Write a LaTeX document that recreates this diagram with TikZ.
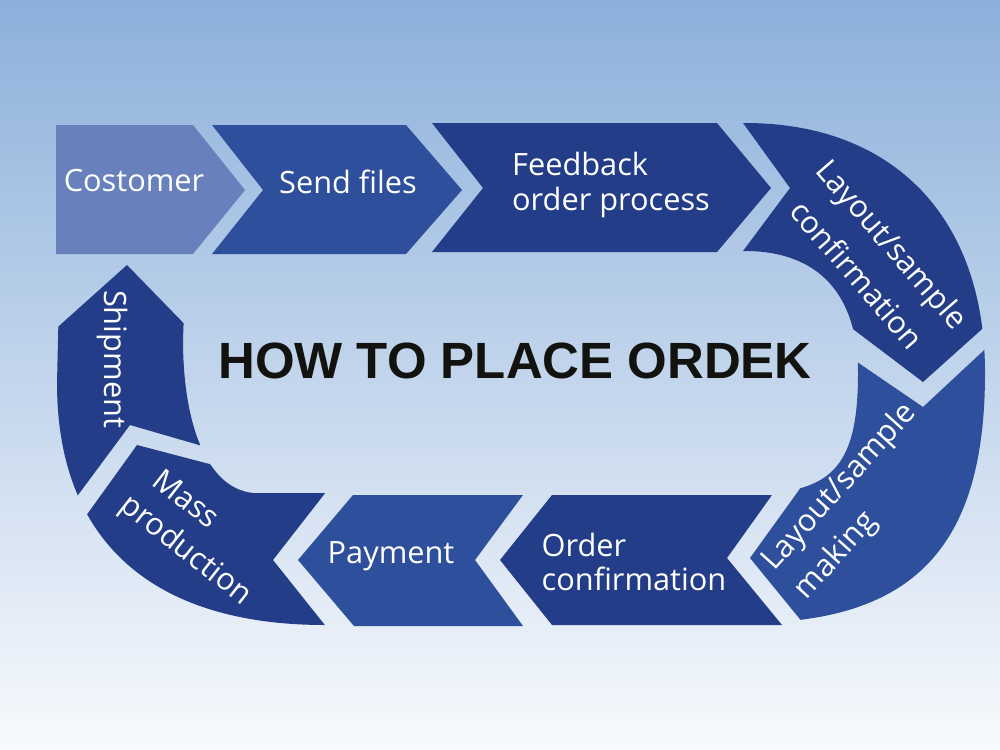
\documentclass[tikz,border=0pt]{standalone}
\usepackage{fontspec}
\setmainfont{Open Sans}                     % step labels
\newfontfamily\headfont{Liberation Sans}    % big title
\usepackage{tikz}
\definecolor{bgtop}{RGB}{140,176,219}       % sky at the top
\definecolor{bgmid}{RGB}{188,208,233}
\definecolor{bgbot}{RGB}{248,250,253}       % almost white at the bottom
\definecolor{steplight}{RGB}{104,128,187}
\definecolor{stepmid}{RGB}{46,79,155}
\definecolor{stepdark}{RGB}{35,61,136}
\definecolor{headink}{RGB}{18,18,14}
\tikzset{steplabel/.style={text=white,inner sep=0pt,align=center,
           font=\fontsize{17.5}{19.5}\selectfont},
         headline/.style={text=headink,inner sep=0pt,
           font=\headfont\bfseries\fontsize{29}{31}\selectfont}}

\begin{document}
\begin{tikzpicture}[x=0.02cm,y=-0.02cm]
\def\ringright{(700,123)--(745,123) .. controls (894,123) and (985,218) .. (985,373) .. controls (985,548) and (913,623) .. (745,623) -- (700,623) -- (700,494) -- (745,494) .. controls (830,494) and (858,470) .. (858,373) .. controls (858,294) and (818,251) .. (745,251) -- (700,251) -- cycle}
\def\ringleft{(345,493) -- (253,493) .. controls (205,488) and (183,420) .. (183,340) -- (186,255) -- (60,255) -- (58,340) -- (57,383) .. controls (57,540) and (151,625) .. (325,625) -- (345,625) -- cycle}
\useasboundingbox (0,0) rectangle (1000,750);
\shade[top color=bgtop,middle color=bgmid,bottom color=bgbot] (0,0) rectangle (1000,750);
% top row
\fill[steplight] (56,125) -- (193,125) -- (245,190) -- (193,254) -- (56,254) -- cycle;
\fill[stepmid] (212,125) -- (406,125) -- (462,190) -- (406,254) -- (212,254) -- (263,190) -- cycle;
\fill[stepdark] (432,123) -- (717,123) -- (771,188) -- (717,252) -- (432,252) -- (483,188) -- cycle;
% right bend
\begin{scope}
\clip (743,90) -- (743,123) -- (790,188) -- (743,251) -- (743,289) -- (800,289) -- (923,382) -- (1010,304) -- (1010,90) -- cycle;
\fill[stepdark] \ringright;
\end{scope}
\begin{scope}
\clip (800,323) -- (923,407) -- (1010,326) -- (1010,660) -- (830,656) -- (750,558) -- (812,472) -- (830,440) -- cycle;
\fill[stepmid] \ringright;
\end{scope}
% bottom row
\fill[stepdark] (552,495) -- (772,495) -- (727,558) -- (782,625) -- (552,625) -- (500,560) -- cycle;
\fill[stepmid] (353,495) -- (523,495) -- (475,560) -- (523,626) -- (354,626) -- (298,560) -- cycle;
% left bend
\begin{scope}
\clip (60,552) -- (137,445) -- (240,472) -- (340,474) -- (273,560) -- (340,644) -- (40,660) -- cycle;
\fill[stepdark] \ringleft;
\end{scope}
\begin{scope}
\clip (40,343) -- (127,265) -- (200,340) -- (230,454) -- (130,425) -- (58,522) -- cycle;
\fill[stepdark] \ringleft;
\end{scope}
% labels
\node[steplabel] (cust) at (134,181) {Costomer};
\node[steplabel] (send) at (348,182) {Send files};
\node[steplabel,align=left] (feed) at (611,185) {Feedback\\order process};
\node[steplabel,rotate=-49] (conf) at (875,259) {Layout/sample\\[7pt]confirmation};
\node[steplabel,rotate=48,align=left] (make) at (856,502) {Layout/sample\\[5pt]making};
\node[steplabel,align=left] (ordc) at (634,562) {Order\\confirmation};
\node[steplabel] (pay) at (391,556) {Payment};
\node[steplabel,rotate=-38,align=left] (mass) at (197,536) {\hspace*{6pt}Mass\\[3pt]production};
\node[steplabel,rotate=-90] (ship) at (112,359) {Shipment};
\node[headline] (head) at (515,361) {HOW TO PLACE ORDEK};
\end{tikzpicture}
\end{document}
